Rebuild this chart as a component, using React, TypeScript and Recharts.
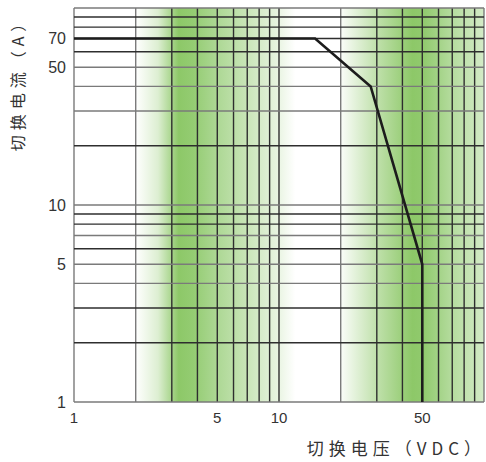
import { LineChart, Line, XAxis, YAxis, ReferenceLine, ReferenceArea } from 'recharts';

// switching voltage (VDC) vs switching current (A)
const voltage = [1, 15, 28, 50, 50];
const current = [70, 70, 40, 5, 1];

const xTicks = [1, 5, 10, 50];
const yTicks = [1, 5, 10, 50, 70];

const gridValues = [1, 2, 3, 4, 5, 6, 7, 8, 9, 10, 20, 30, 40, 50, 60, 70, 80, 90, 100];
const lightVertical = [1, 2, 20, 100];
const lightHorizontal = [1, 4, 5, 7, 10, 30, 40, 50, 100];

const data = voltage.map((v, i) => ({ v, a: current[i] }));

const GRAY = '#7a7a7a';
const DARK = '#2e2e2e';
const LABEL_FONT = '"Liberation Sans", Arial, sans-serif';
const CJK_FONT = '"Noto Sans CJK SC", "Liberation Sans", sans-serif';

export default function App() {
  return (
    <div style={{ position: 'absolute', left: 0, top: 0, width: 486, height: 462, background: '#fff' }}>
      <LineChart
        width={486}
        height={462}
        data={data}
        margin={{ top: 8, right: 2, bottom: 0, left: 0 }}
      >
        <defs>
          <linearGradient id="band1" x1="0" y1="0" x2="1" y2="0">
            <stop offset="0" stopColor="#8dc868" stopOpacity={0} />
            <stop offset="0.14" stopColor="#8dc868" stopOpacity={0.3} />
            <stop offset="0.27" stopColor="#8dc868" stopOpacity={1} />
            <stop offset="0.36" stopColor="#94cc72" stopOpacity={1} />
            <stop offset="0.5" stopColor="#abd792" stopOpacity={1} />
            <stop offset="0.7" stopColor="#c9e5b8" stopOpacity={1} />
            <stop offset="0.88" stopColor="#e6f3de" stopOpacity={1} />
            <stop offset="1" stopColor="#e6f3de" stopOpacity={0} />
          </linearGradient>
          <linearGradient id="band2" x1="0" y1="0" x2="1" y2="0">
            <stop offset="0" stopColor="#8dc868" stopOpacity={0.04} />
            <stop offset="0.25" stopColor="#8dc868" stopOpacity={0.55} />
            <stop offset="0.5" stopColor="#8dc868" stopOpacity={1} />
            <stop offset="0.58" stopColor="#91ca6e" stopOpacity={1} />
            <stop offset="0.78" stopColor="#b5dc9f" stopOpacity={1} />
            <stop offset="1" stopColor="#d4ebc7" stopOpacity={1} />
          </linearGradient>
        </defs>

        <XAxis
          dataKey="v"
          type="number"
          scale="log"
          domain={[1, 100]}
          ticks={xTicks}
          allowDataOverflow
          axisLine={false}
          tickLine={false}
          tickSize={0}
          tickMargin={10}
          height={60}
          tick={{ fill: '#333', fontSize: 15, fontFamily: LABEL_FONT }}
        />
        <YAxis
          dataKey="a"
          type="number"
          scale="log"
          domain={[1, 100]}
          ticks={yTicks}
          allowDataOverflow
          axisLine={false}
          tickLine={false}
          tickSize={0}
          tickMargin={8}
          width={74}
          tick={{ fill: '#333', fontSize: 16, fontFamily: LABEL_FONT }}
        />

        <ReferenceArea x1={2} x2={12} fill="url(#band1)" fillOpacity={1} stroke="none" ifOverflow="visible" />
        <ReferenceArea x1={20} x2={100} fill="url(#band2)" fillOpacity={1} stroke="none" ifOverflow="visible" />

        {gridValues.map((g) => (
          <ReferenceLine
            key={`x${g}`}
            x={g}
            stroke={lightVertical.includes(g) ? GRAY : DARK}
            strokeWidth={1.4}
            ifOverflow="visible"
          />
        ))}
        {gridValues.map((g) => (
          <ReferenceLine
            key={`y${g}`}
            y={g}
            stroke={lightHorizontal.includes(g) ? GRAY : DARK}
            strokeWidth={1.4}
            ifOverflow="visible"
          />
        ))}

        <Line
          type="linear"
          dataKey="a"
          stroke="#1c1c1c"
          strokeWidth={2.6}
          dot={false}
          isAnimationActive={false}
        />
      </LineChart>

      <div
        style={{
          position: 'absolute',
          left: 17,
          top: 81,
          transform: 'translate(-50%, -50%) rotate(-90deg)',
          whiteSpace: 'nowrap',
          fontFamily: CJK_FONT,
          fontSize: 16,
          letterSpacing: 5,
          color: '#333',
        }}
      >
        切换电流（A）
      </div>
      <div
        style={{
          position: 'absolute',
          right: 0,
          top: 435,
          whiteSpace: 'nowrap',
          fontFamily: CJK_FONT,
          fontSize: 17,
          letterSpacing: 5,
          color: '#333',
        }}
      >
        切换电压（VDC）
      </div>
    </div>
  );
}
